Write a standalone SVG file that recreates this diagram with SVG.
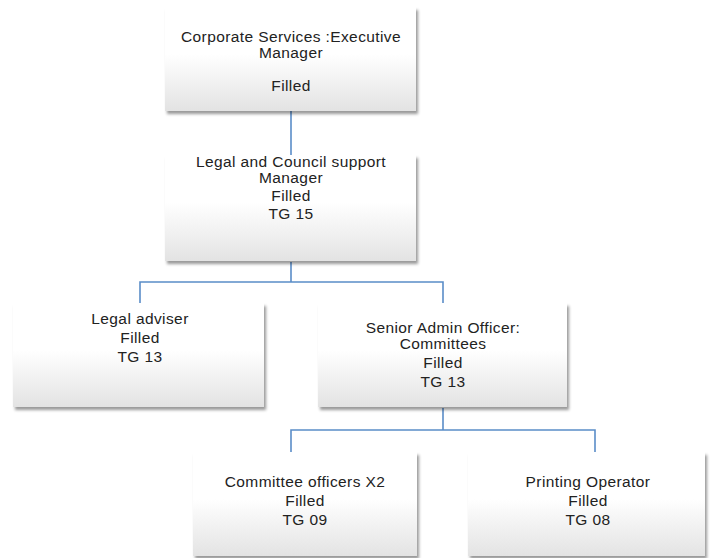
<svg xmlns="http://www.w3.org/2000/svg" width="710" height="558" viewBox="0 0 710 558">
<defs>
<linearGradient id="g" x1="0" y1="0" x2="0" y2="1">
<stop offset="0" stop-color="#ffffff"/>
<stop offset="0.45" stop-color="#ffffff"/>
<stop offset="1" stop-color="#e3e3e3"/>
</linearGradient>
<filter id="sh" x="-10%" y="-10%" width="125%" height="130%">
<feDropShadow dx="2" dy="3" stdDeviation="1.8" flood-color="#000" flood-opacity="0.4"/>
</filter>
</defs>
<style>
.box{fill:url(#g);filter:url(#sh)}
.t{font-family:"Liberation Sans",Arial,sans-serif;font-size:15.5px;letter-spacing:0.4px;fill:#222;text-anchor:middle}
.c{fill:none;stroke:#5a8dc8;stroke-width:1.6}
</style>
<rect width="710" height="558" fill="#fff"/>
<g id="connectors">
<path class="c" d="M291,111 V155"/>
<path class="c" d="M291,262 V282 M140,303 V282 H443 V303"/>
<path class="c" d="M443,408 V430 M291,452 V430 H595 V452"/>
</g>
<g id="n1">
<rect class="box" x="165" y="7" width="251" height="104"/>
<text class="t" x="291" y="42">Corporate Services :Executive</text>
<text class="t" x="291" y="58">Manager</text>
<text class="t" x="291" y="91">Filled</text>
</g>
<g id="n2">
<rect class="box" x="165" y="155" width="251" height="106"/>
<text class="t" x="291" y="167">Legal and Council support</text>
<text class="t" x="291" y="183">Manager</text>
<text class="t" x="291" y="201">Filled</text>
<text class="t" x="291" y="219">TG 15</text>
</g>
<g id="n3">
<rect class="box" x="13" y="303" width="251" height="104"/>
<text class="t" x="140" y="324">Legal adviser</text>
<text class="t" x="140" y="343">Filled</text>
<text class="t" x="140" y="362">TG 13</text>
</g>
<g id="n4">
<rect class="box" x="318" y="303" width="249" height="104"/>
<text class="t" x="443" y="333">Senior Admin Officer:</text>
<text class="t" x="443" y="349">Committees</text>
<text class="t" x="443" y="368">Filled</text>
<text class="t" x="443" y="387">TG 13</text>
</g>
<g id="n5">
<rect class="box" x="193" y="452" width="224" height="104"/>
<text class="t" x="305" y="487">Committee officers X2</text>
<text class="t" x="305" y="506">Filled</text>
<text class="t" x="305" y="525">TG 09</text>
</g>
<g id="n6">
<rect class="box" x="468" y="452" width="237" height="104"/>
<text class="t" x="588" y="487">Printing Operator</text>
<text class="t" x="588" y="506">Filled</text>
<text class="t" x="588" y="525">TG 08</text>
</g>
</svg>
